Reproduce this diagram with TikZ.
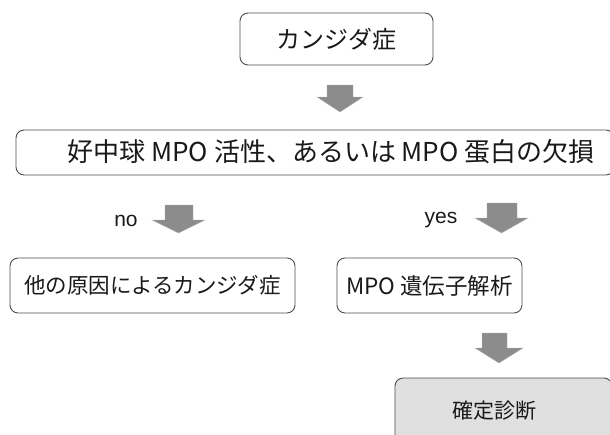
\documentclass[tikz,border=0pt]{standalone}
\usepackage{fontspec}
\setmainfont{Noto Sans CJK JP}
\newfontfamily\latinfont{Liberation Sans}
\begin{document}
\begin{tikzpicture}[x=1pt,y=-1pt,
  box/.style={draw=black!70,line width=0.9pt,rounded corners=8pt,inner sep=0pt},
  txt/.style={inner sep=0pt,text=black!90},
  lbl/.style={font=\latinfont\fontsize{21}{24}\selectfont,inner sep=0pt,text=black!90},
  barrow/.style={fill=black!45,draw=black!30,line width=0.4pt}]
\useasboundingbox (0,0) rectangle (610,434);
\clip (0,0) rectangle (610,434);
\newcommand\blockarr[7]{% shaft l, shaft r, head l, head r, top, head y, tip y
  \path[barrow] (#1,#5) -- (#2,#5) -- (#2,#6) -- (#4,#6) -- ({(#3+#4)/2},#7) -- (#3,#6) -- (#1,#6) -- cycle;}
% boxes
\node[box,minimum width=193pt,minimum height=52pt] (b1) at (336.5,39) {};
\node[txt,font=\fontsize{24}{27}\selectfont] (t1) at (b1.center) {カンジダ症};
\node[box,minimum width=598pt,minimum height=45pt] (b2) at (315,152.5) {};
\node[txt,font=\fontsize{26}{29}\selectfont] (t2) at (331,152) {好中球 MPO 活性、あるいは MPO 蛋白の欠損};
\node[box,minimum width=285pt,minimum height=55pt] (b3) at (152.5,285.5) {};
\node[txt,font=\fontsize{21.5}{24}\selectfont] (t3) at (b3.center) {他の原因によるカンジダ症};
\node[box,minimum width=185pt,minimum height=55pt] (b4) at (429.5,285.5) {};
\node[txt,font=\fontsize{22.5}{25}\selectfont] (t4) at (b4.center) {MPO 遺伝子解析};
\node[box,fill=black!12,minimum width=217pt,minimum height=67pt] (b5) at (503.5,411.5) {};
\node[txt,font=\fontsize{21}{24}\selectfont] (t5) at (494,411) {確定診断};
% labels
\node[lbl] (no) at (126,221) {no};
\node[lbl] (yes) at (441,220) {yes};
% block arrows
\blockarr{327}{353}{317}{363}{85}{97}{112}
\blockarr{165}{193}{152}{205}{205}{220}{233}
\blockarr{487}{517}{475}{528}{203}{218}{233}
\blockarr{482}{507}{475}{523}{333}{348}{363}
\end{tikzpicture}
\end{document}
